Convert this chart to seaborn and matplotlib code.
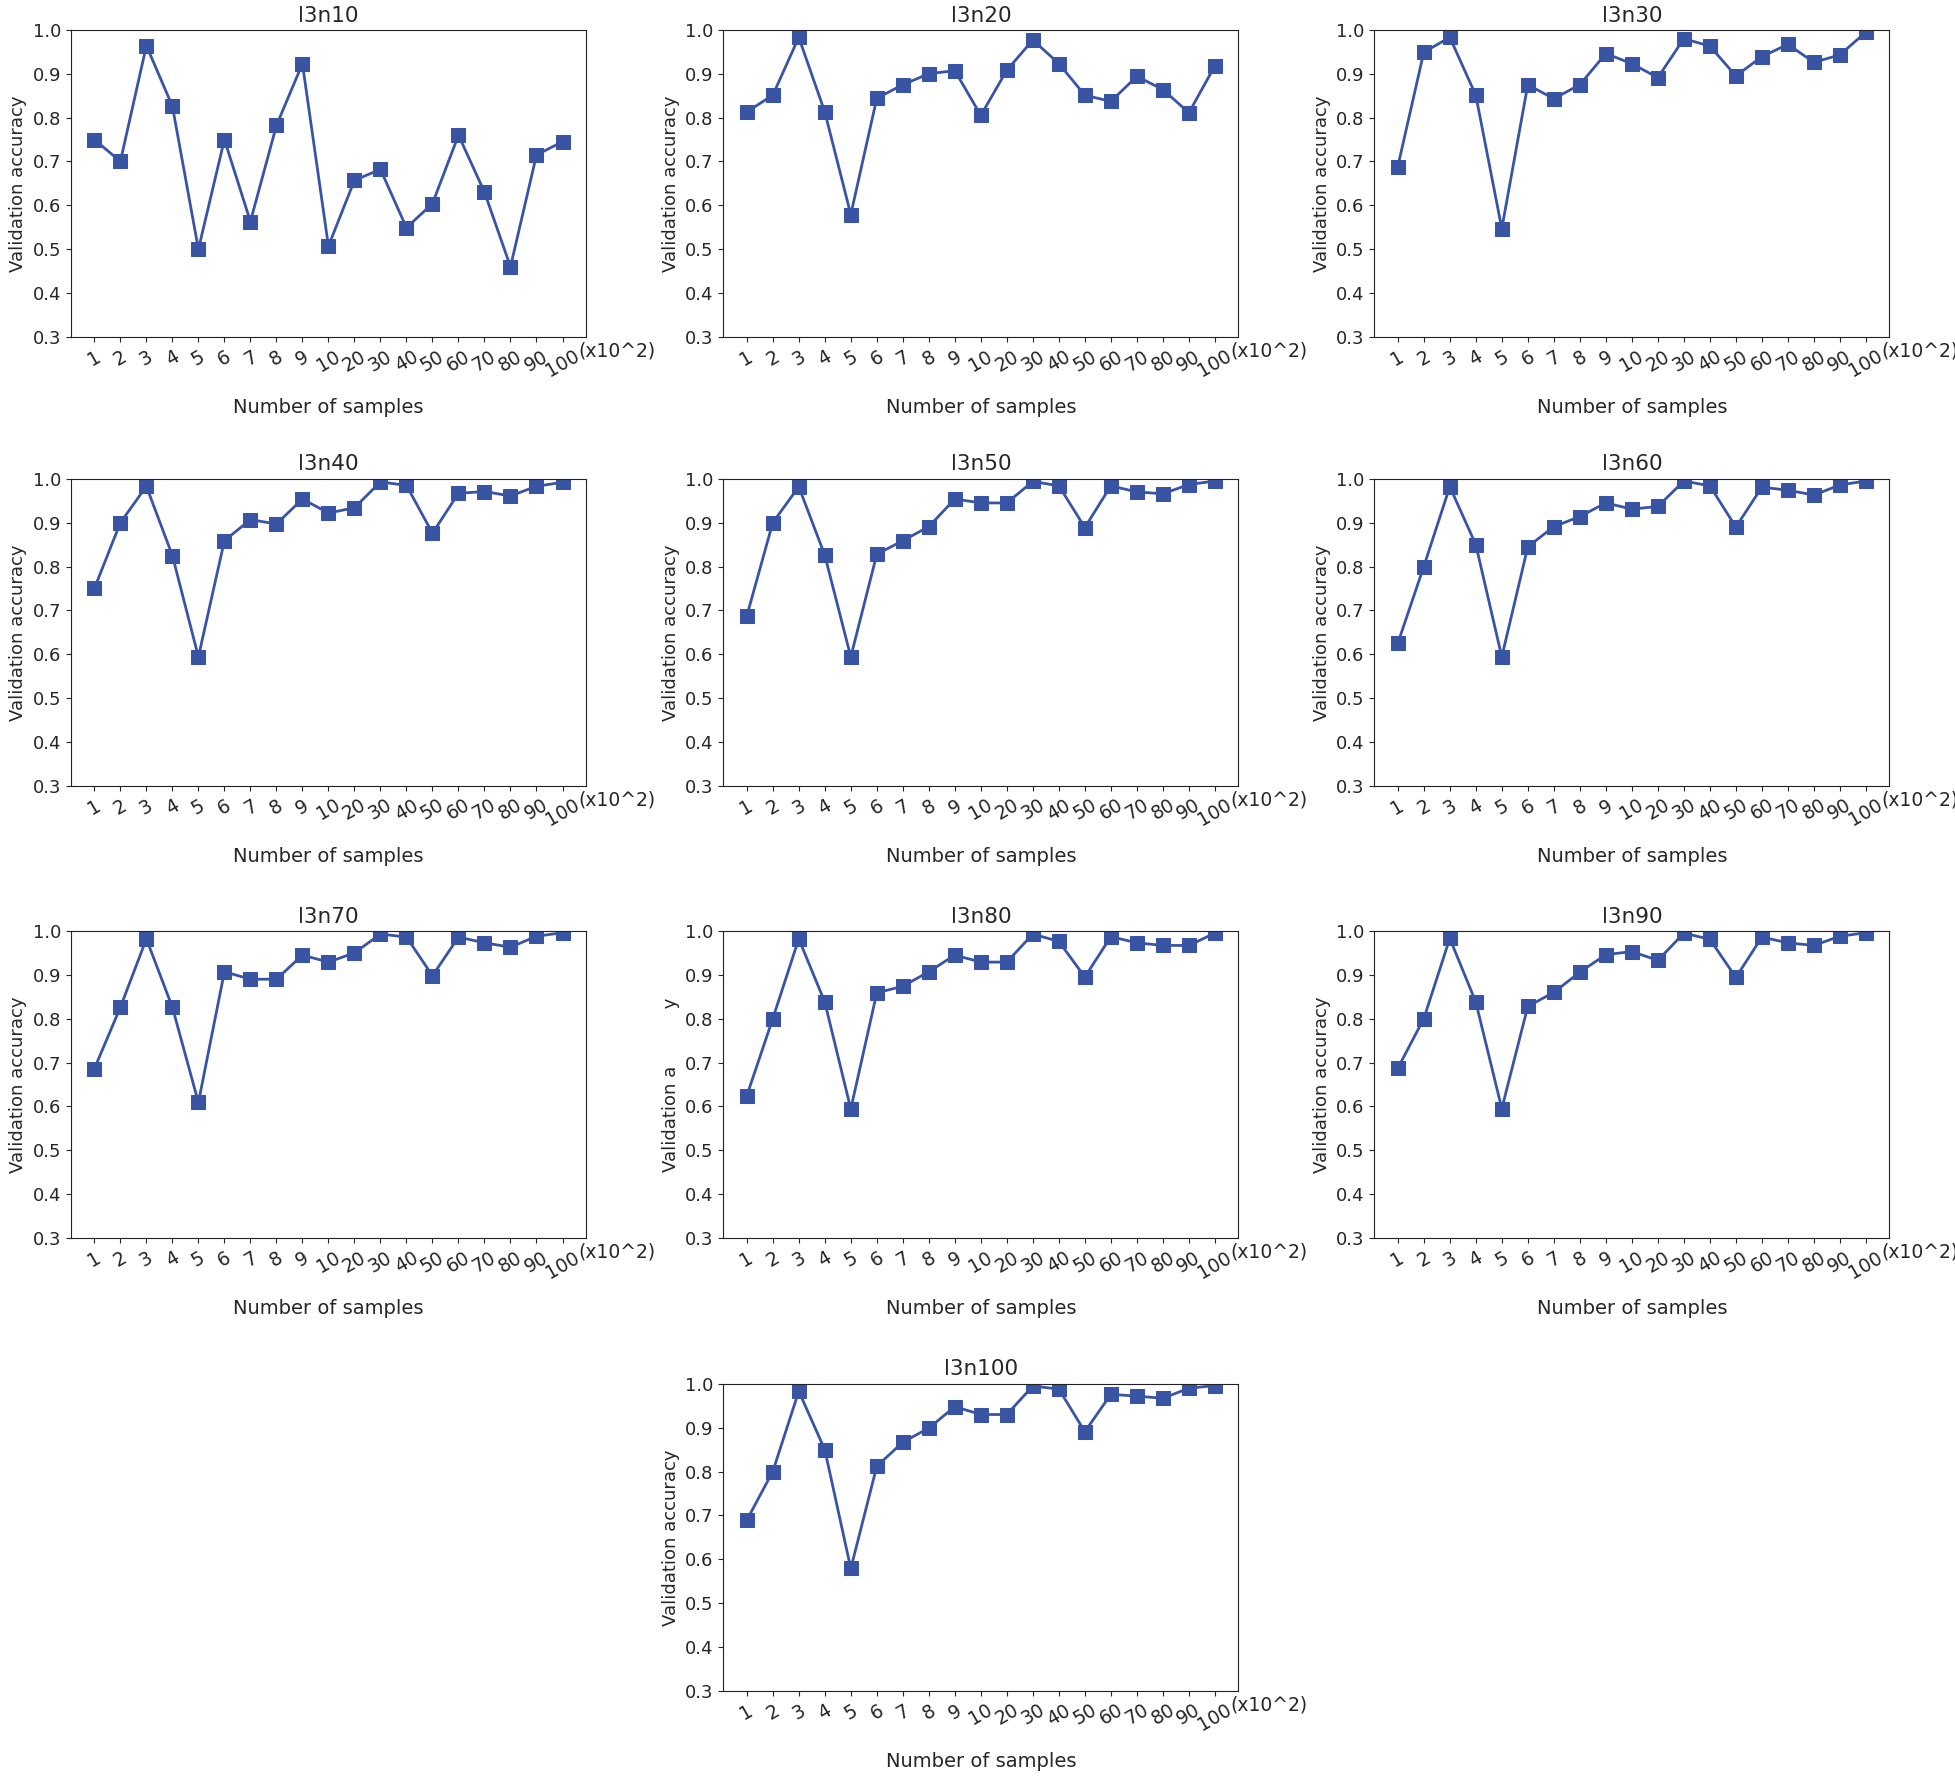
import numpy as np
import pandas as pd
import seaborn as sns
from matplotlib import pyplot as plt

# x axis categories (number of samples, x10^2)
samples = ['1', '2', '3', '4', '5', '6', '7', '8', '9', '10',
           '20', '30', '40', '50', '60', '70', '80', '90', '100']

# validation accuracy per model
l3n10 = [0.750, 0.700, 0.964, 0.826, 0.500, 0.750, 0.563, 0.782, 0.923, 0.507,
         0.657, 0.682, 0.549, 0.604, 0.760, 0.630, 0.460, 0.715, 0.745]
l3n20 = [0.813, 0.851, 0.983, 0.813, 0.579, 0.844, 0.875, 0.900, 0.907, 0.805,
         0.908, 0.977, 0.923, 0.851, 0.837, 0.894, 0.864, 0.811, 0.918]
l3n30 = [0.688, 0.949, 0.983, 0.851, 0.547, 0.875, 0.843, 0.875, 0.946, 0.923,
         0.891, 0.980, 0.963, 0.895, 0.939, 0.967, 0.926, 0.943, 0.995]
l3n40 = [0.750, 0.900, 0.983, 0.825, 0.594, 0.859, 0.907, 0.897, 0.954, 0.922,
         0.934, 0.993, 0.985, 0.876, 0.967, 0.971, 0.961, 0.983, 0.992]
l3n50 = [0.687, 0.900, 0.982, 0.826, 0.594, 0.828, 0.859, 0.891, 0.954, 0.945,
         0.945, 0.994, 0.984, 0.889, 0.984, 0.970, 0.966, 0.987, 0.995]
l3n60 = [0.625, 0.800, 0.982, 0.850, 0.594, 0.845, 0.891, 0.914, 0.945, 0.931,
         0.937, 0.995, 0.984, 0.890, 0.981, 0.974, 0.963, 0.986, 0.995]
l3n70 = [0.686, 0.826, 0.982, 0.826, 0.609, 0.907, 0.890, 0.890, 0.945, 0.929,
         0.950, 0.993, 0.986, 0.898, 0.986, 0.973, 0.963, 0.988, 0.996]
l3n80 = [0.624, 0.800, 0.982, 0.838, 0.594, 0.859, 0.874, 0.907, 0.945, 0.929,
         0.929, 0.993, 0.976, 0.895, 0.987, 0.973, 0.967, 0.967, 0.995]
l3n90 = [0.687, 0.800, 0.983, 0.838, 0.595, 0.828, 0.860, 0.906, 0.946, 0.953,
         0.933, 0.995, 0.981, 0.894, 0.986, 0.973, 0.967, 0.988, 0.996]
l3n100 = [0.689, 0.800, 0.983, 0.850, 0.579, 0.812, 0.867, 0.899, 0.948, 0.930,
          0.930, 0.995, 0.988, 0.891, 0.976, 0.972, 0.967, 0.990, 0.996]

models = ['l3n10', 'l3n20', 'l3n30', 'l3n40', 'l3n50',
          'l3n60', 'l3n70', 'l3n80', 'l3n90', 'l3n100']
accs = [l3n10, l3n20, l3n30, l3n40, l3n50, l3n60, l3n70, l3n80, l3n90, l3n100]

# the l3n80 panel has a broken y label in the source figure
ylabels = ['Validation accuracy'] * 10
ylabels[7] = 'Validation a          y'

sns.set_style('ticks')
plt.rcParams['font.family'] = ['DejaVu Sans']

color = '#3a54a4'
fig = plt.figure(figsize=(19.55, 17.78), dpi=100)

col_left = [0.0363, 0.370, 0.703]
row_bottom = [0.8105, 0.558, 0.3037, 0.049]
w, h = 0.2634, 0.1727

# grid slots: 3x3 then one centred in last row
slots = [(r, c) for r in range(3) for c in range(3)] + [(3, 1)]

for i, name in enumerate(models):
    r, c = slots[i]
    ax = fig.add_axes([col_left[c], row_bottom[r], w, h])
    df = pd.DataFrame({'pos': np.arange(len(samples)), 'acc': accs[i]})
    sns.lineplot(data=df, x='pos', y='acc', ax=ax, color=color, marker='s',
                 markersize=9.5, markeredgecolor=color, linewidth=2.0)
    ax.set_xticks(np.arange(len(samples)))
    ax.set_xticklabels(samples, rotation=30, fontsize=13.5)
    ax.set_xlim(-0.9, len(samples) - 0.1)
    ax.set_ylim(0.3, 1.0)
    ax.set_yticks(np.arange(0.3, 1.01, 0.1))
    ax.tick_params(axis='y', labelsize=13)
    ax.set_title(name, fontsize=15.5)
    ax.set_xlabel('Number of samples', fontsize=14, labelpad=12)
    ax.set_ylabel(ylabels[i], fontsize=13)
    ax.text(0.985, -0.045, '(x10^2)', transform=ax.transAxes,
            ha='left', va='center', fontsize=13.5)
    for sp in ax.spines.values():
        sp.set_color('#222222')

plt.savefig('out.png', dpi=100)
